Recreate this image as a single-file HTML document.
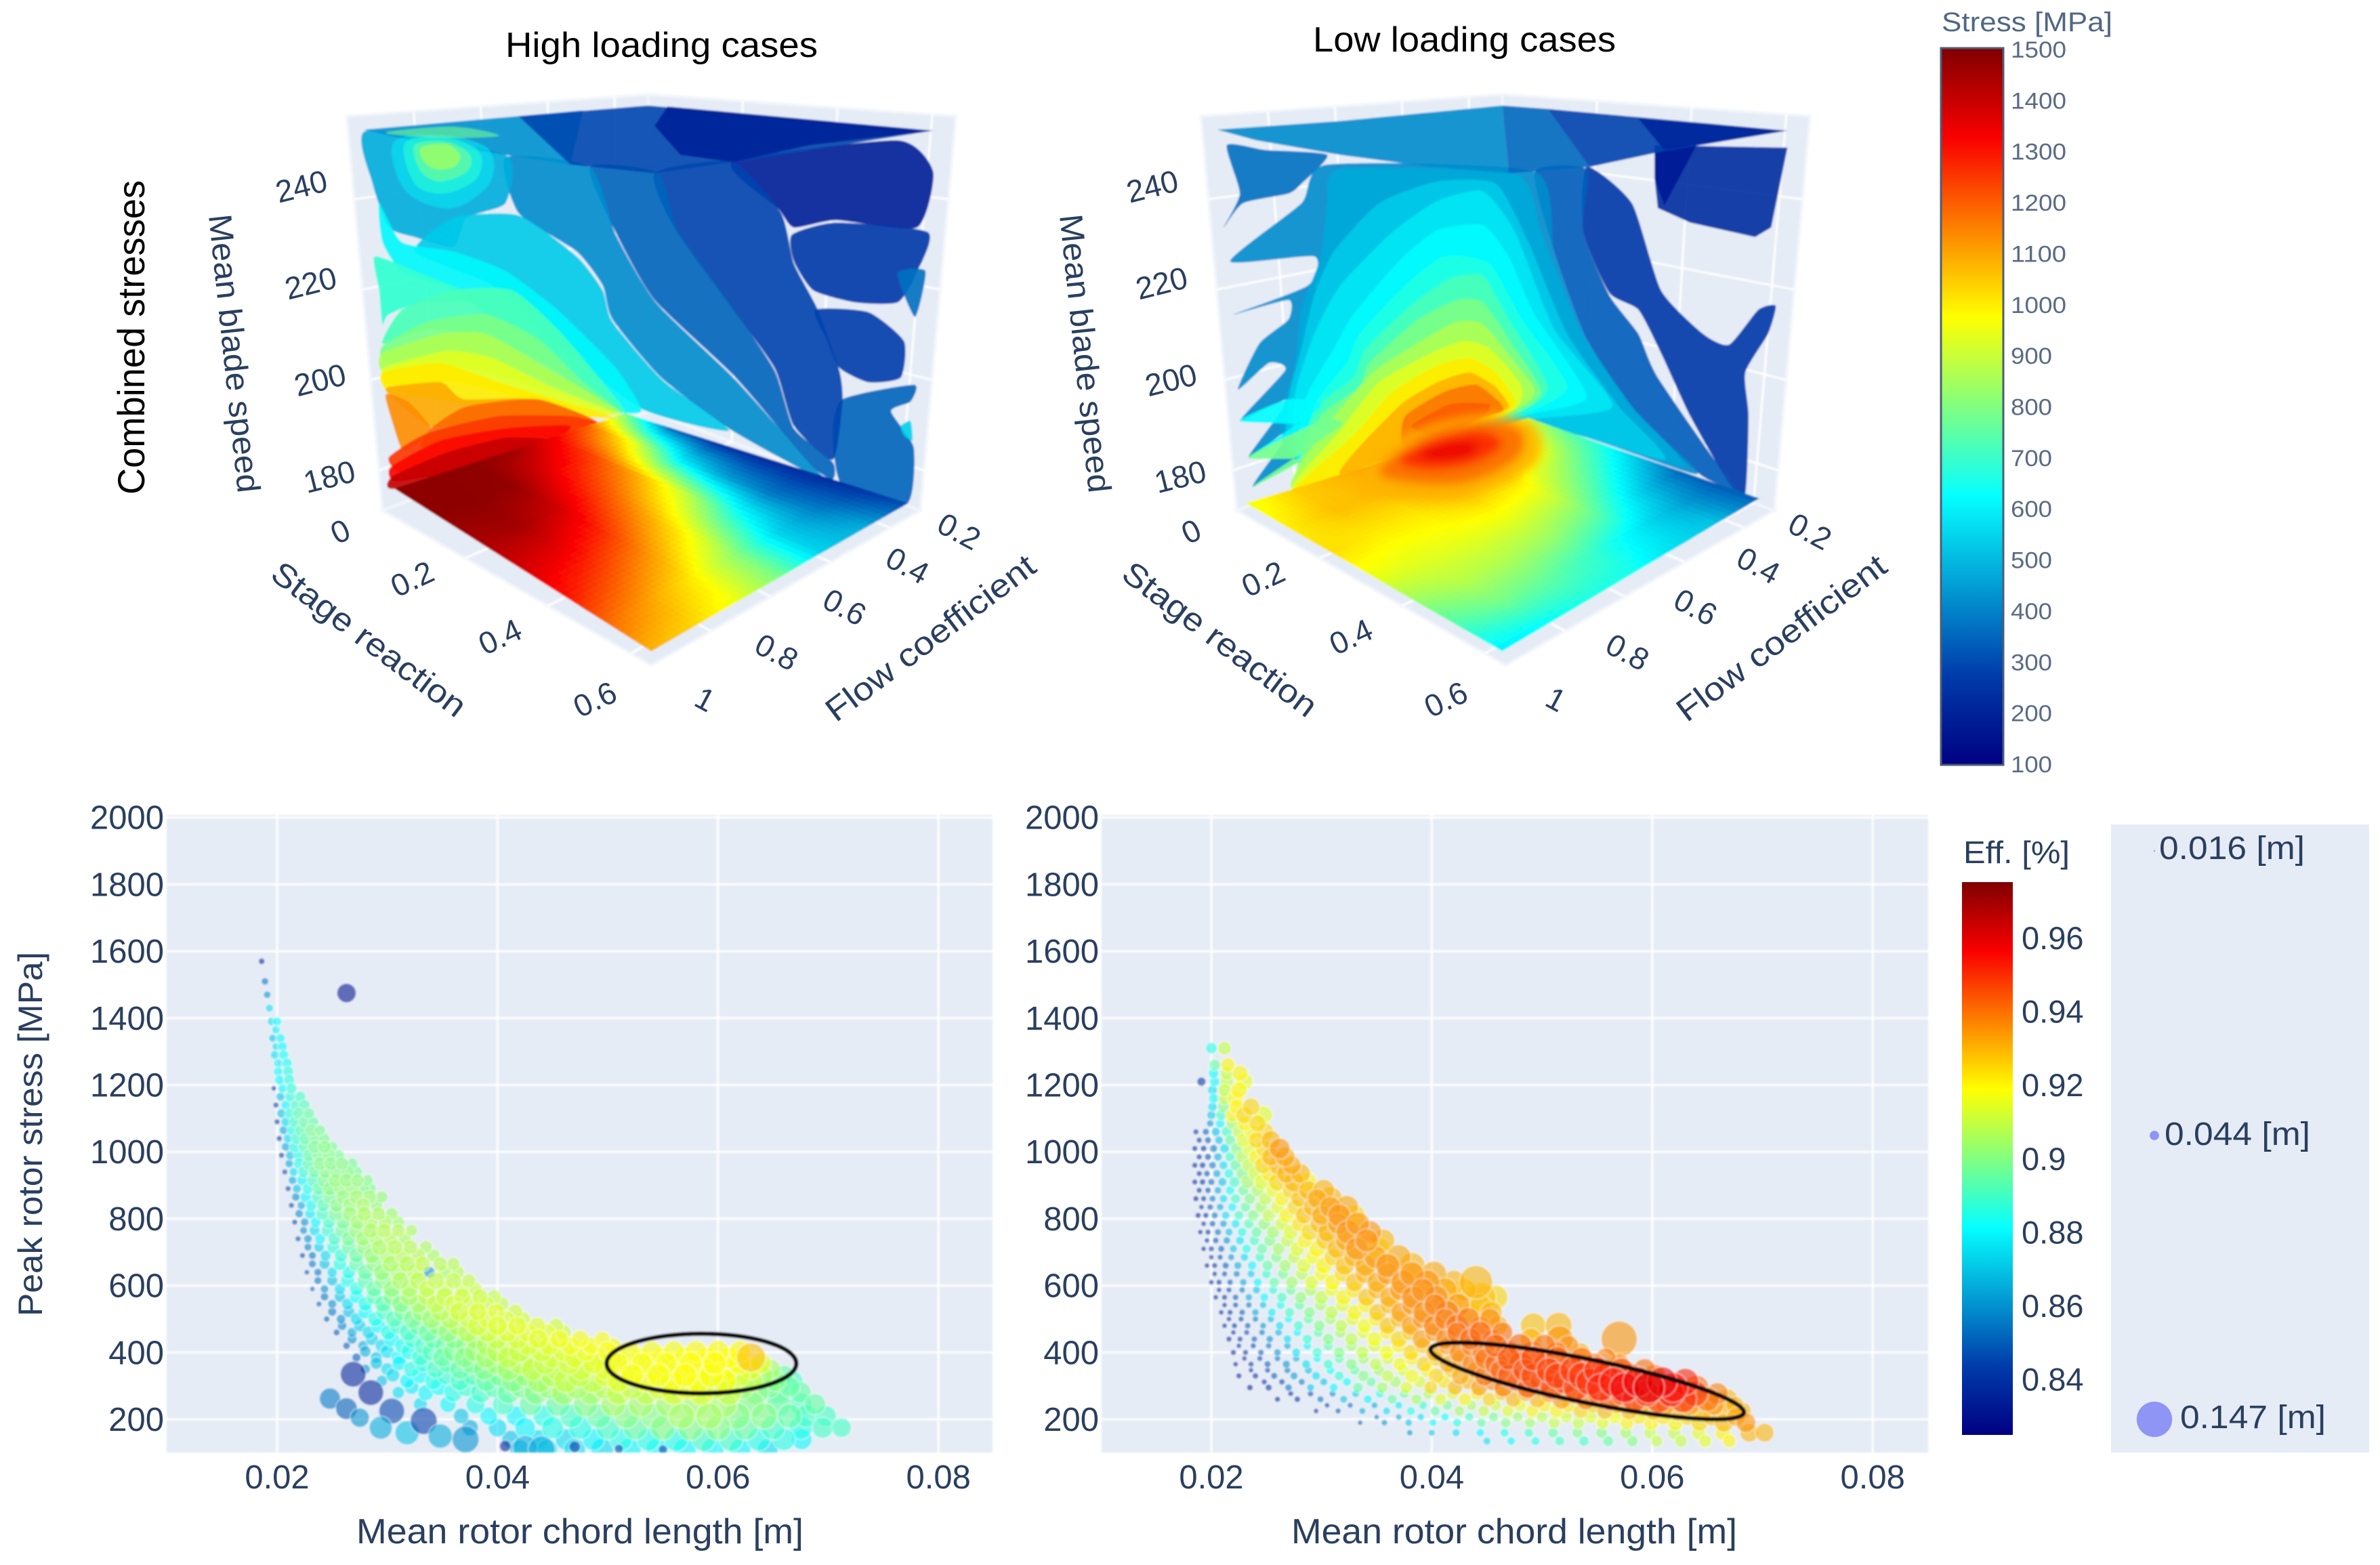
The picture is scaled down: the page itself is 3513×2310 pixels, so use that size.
<!DOCTYPE html>
<html lang="en">
<head>
<meta charset="utf-8">
<title>Combined stresses: high and low loading cases</title>
<style>
html,body{margin:0;padding:0;background:#fff;}
svg{display:block;}
text{font-family:"Liberation Sans",sans-serif;}
</style>
</head>
<body>
<svg id="figure" xmlns="http://www.w3.org/2000/svg" width="3513" height="2310" viewBox="0 0 3513 2310">
  <defs>
    <linearGradient id="jetGrad" x1="0" y1="0" x2="0" y2="1">
      <stop offset="0" stop-color="rgb(128,0,0)"/>
      <stop offset="0.125" stop-color="rgb(250,0,0)"/>
      <stop offset="0.375" stop-color="rgb(255,255,0)"/>
      <stop offset="0.625" stop-color="rgb(5,255,255)"/>
      <stop offset="0.875" stop-color="rgb(0,60,170)"/>
      <stop offset="1" stop-color="rgb(0,0,131)"/>
    </linearGradient>
    <clipPath id="clipHigh"><rect x="246" y="1203" width="1219" height="941"/></clipPath>
    <clipPath id="clipLow"><rect x="1626" y="1203" width="1220" height="941"/></clipPath>
    <filter id="soft" filterUnits="userSpaceOnUse" x="0" y="0" width="3513" height="2310"><feGaussianBlur stdDeviation="1.2"/></filter>
    <filter id="softer" filterUnits="userSpaceOnUse" x="0" y="0" width="3513" height="2310"><feGaussianBlur stdDeviation="7"/></filter>
  </defs>
  <rect x="0" y="0" width="3513" height="2310" fill="#ffffff"/>
  <g id="scene3dHigh" filter="url(#soft)"></g>
  <g id="scene3dLow" filter="url(#soft)"></g>
  <g id="plotHigh" filter="url(#soft)"></g>
  <g id="plotLow" filter="url(#soft)"></g>
  <g id="tickLabels"></g>

  <text x="746" y="84" font-size="52" fill="#000" textLength="461" lengthAdjust="spacingAndGlyphs">High loading cases</text>
  <text x="1938" y="76" font-size="52" fill="#000" textLength="447" lengthAdjust="spacingAndGlyphs">Low loading cases</text>
  <text transform="rotate(-90 213 730)" x="213" y="730" font-size="56" fill="#000" textLength="464" lengthAdjust="spacingAndGlyphs">Combined stresses</text>

  <text transform="rotate(84 308 318)" x="308" y="318" font-size="48" fill="#2a3f5f" textLength="413" lengthAdjust="spacingAndGlyphs">Mean blade speed</text>
  <text transform="rotate(37 545 943)" x="545" y="960" font-size="48" fill="#2a3f5f" text-anchor="middle" textLength="346" lengthAdjust="spacingAndGlyphs">Stage reaction</text>
  <text transform="rotate(-37 1373 941)" x="1373" y="958" font-size="48" fill="#2a3f5f" text-anchor="middle" textLength="374" lengthAdjust="spacingAndGlyphs">Flow coefficient</text>
  <text transform="rotate(84 1564 318)" x="1564" y="318" font-size="48" fill="#2a3f5f" textLength="413" lengthAdjust="spacingAndGlyphs">Mean blade speed</text>
  <text transform="rotate(37 1801 943)" x="1801" y="960" font-size="48" fill="#2a3f5f" text-anchor="middle" textLength="346" lengthAdjust="spacingAndGlyphs">Stage reaction</text>
  <text transform="rotate(-37 2629 941)" x="2629" y="958" font-size="48" fill="#2a3f5f" text-anchor="middle" textLength="374" lengthAdjust="spacingAndGlyphs">Flow coefficient</text>

  <text x="526" y="2278" font-size="52" fill="#2a3f5f" textLength="660" lengthAdjust="spacingAndGlyphs">Mean rotor chord length [m]</text>
  <text x="1906" y="2278" font-size="52" fill="#2a3f5f" textLength="658" lengthAdjust="spacingAndGlyphs">Mean rotor chord length [m]</text>
  <text transform="rotate(-90 62 1943)" x="62" y="1943" font-size="50" fill="#2a3f5f" textLength="538" lengthAdjust="spacingAndGlyphs">Peak rotor stress [MPa]</text>

  <g id="stressBar">
    <rect x="2865" y="71" width="92" height="1058" fill="url(#jetGrad)" stroke="#4d5d75" stroke-width="3"/>
    <text x="2866" y="46" font-size="40" fill="#506784" textLength="252" lengthAdjust="spacingAndGlyphs">Stress [MPa]</text>
  </g>
  <g id="effBar">
    <rect x="2896" y="1302" width="75" height="816" fill="url(#jetGrad)"/>
    <text x="2898" y="1274" font-size="46" fill="#2a3f5f" textLength="157" lengthAdjust="spacingAndGlyphs">Eff. [%]</text>
  </g>
  <g id="sizeLegend">
    <rect x="3116" y="1217" width="381" height="927" fill="#e5ecf6"/>
  </g>
</svg>

<script>
// ---------- colour scale ----------
const jetPositions = [0, 0.125, 0.375, 0.625, 0.875, 1];
const jetReds = [0, 0, 5, 255, 250, 128];
const jetGreens = [0, 60, 255, 255, 0, 0];
const jetBlues = [131, 170, 255, 0, 0, 0];

// ---------- scatter axes ----------
const chordTicks = [0.02, 0.04, 0.06, 0.08];
const stressTicks = [200, 400, 600, 800, 1000, 1200, 1400, 1600, 1800, 2000];

// ---------- colorbars + legend ----------
const stressBarTicks = [1500, 1400, 1300, 1200, 1100, 1000, 900, 800, 700, 600, 500, 400, 300, 200, 100];
const effBarTicks = [0.96, 0.94, 0.92, 0.9, 0.88, 0.86, 0.84];
const legendSizes = [16, 44, 147];
const legendLabels = ['0.016 [m]', '0.044 [m]', '0.147 [m]'];

// ---------- 3D axes ----------
const speedTicks = [240, 220, 200, 180];
const stageTicks = [0, 0.2, 0.4, 0.6];
const flowTicks = [0.2, 0.4, 0.6, 0.8, 1];

// ---------- high loading: peak stress vs chord, one row per stress level ----------
const highRowStress = [1570,1510,1470,1430,1390,1340,1290,1240,1190,1140,1090,1040,990,940,890,840,790,740,690,640,590,545,500,460,420,385,350,315,280,245,210,175,140,110];
const highRowChord = [
[18.6],[18.9],[19.1],[19.3],[19.5,20],[19.6,20.3],[19.8,20.6],[20.1,21],
[19.7,20.5,21.3],[19.9,20.8,21.7,22.5],[20,20.8,21.6,22.5,23.3],[20.2,21,21.8,22.6,23.5,24.3],
[20.4,21.2,22,22.9,23.8,24.7,25.6],[20.7,21.5,22.4,23.4,24.4,25.4,26.4,27.2],
[21,21.8,22.8,23.8,24.8,25.8,26.8,27.8,28.5],[21.3,22.2,23.1,24.2,25.4,26.6,27.8,29],
[21.6,22.5,23.5,24.7,26,27.3,28.5,29.8,31],[21.9,22.8,23.9,25.2,26.5,27.8,29,30.3,31.6],
[22.3,23.2,24.4,25.8,27.2,28.6,30,31.4,32.8,34.2],[22.7,23.7,25,26.5,28,29.5,31,32.5,33.8,35.2,36.4],
[23.2,24.3,25.7,27.2,28.8,30.4,32,33.6,35.2,36.8,38],[23.8,25,26.4,28,29.6,31.2,32.8,34.4,36,37.6,39,40.4],
[24.5,25.8,27.2,28.9,30.6,32.3,34,35.7,37.4,39.1,40.8,42.3],[25.4,26.8,28.3,30.1,31.9,33.7,35.5,37.3,39.1,40.9,42.7,44.5,46],
[26.3,27.8,29.5,31.4,33.3,35.2,37.1,39,40.9,42.8,44.7,46.6,48.5,50.5],
[27.2,29,31,33,35,37,39,41,43,45,47,49,51,53,55,57,59,61,63],
[28,30,32.2,34.4,36.6,38.8,41,43.2,45.4,47.6,49.8,52,54.2,56.4,58.6,60.8,63,64.8],
[29.5,31.8,34.2,36.6,39,41.4,43.8,46.2,48.6,51,53.4,55.8,58.2,60.6,63,65.2,66.8],
[31,33.5,36,38.5,41,43.5,46,48.5,51,53.5,56,58.5,61,63.5,65.5,67.5],
[33,35.5,38,40.5,43,45.5,48,50.5,53,55.5,58,60.5,63,65.5,67.5,68.8],
[36.7,39.2,41.7,44.2,46.7,49.2,51.7,54.2,56.7,59.2,61.7,64.2,66.5,68,69.8],
[37.5,40,42.5,45,47.5,50,52.5,55,57.5,60,62.5,65,67.5,69.5,71.2],
[41.2,43.7,46.2,48.7,51.2,53.7,56.2,58.7,61.2,63.7,66,67.6],
[42,44.5,47,49.5,52,54.5,57,59.5,62,64.5]];
const highRowEff = [
[83.5],[85.5],[86],[87.5],[87.5,88],[87,88],[87.5,88.2],[88,88.6],
[84,88,88.7],[84,88,89,89.2],[84,87.5,89,89.5,89.5],[84,87.5,88.8,89.5,89.8,89.8],
[84,87,88.5,89.5,89.8,90,89.8],[84.5,87.5,88.8,89.6,90,90,90,89.8],
[84.5,87,88.5,89.5,90,90.2,90.2,90,89.8],[84.5,86.5,88.3,89.3,90,90.3,90.5,90.2],
[84.5,86,88,89,89.8,90.4,90.6,90.6,90.4],[84.5,86,88,89,89.8,90.4,90.6,90.8,90.6],
[84.5,85.5,87.5,88.8,89.6,90.3,90.6,90.8,90.8,90.6],[84.5,85.5,87.5,88.5,89.5,90.2,90.6,90.8,86,90.6,90.8],
[85,86,87.5,88.5,89.5,90.2,90.6,91,91,91,91],[85,86,87.5,88.5,89.3,90,90.5,91,91.2,91.2,91.2,91],
[85,86,87.5,88.5,89.2,89.8,90.4,90.8,91.2,91.4,91.4,91.2],[85,86.5,87.5,88.5,89,89.6,90.2,90.8,91.2,91.4,91.5,91.5,91.2],
[85,86.5,87.5,88.3,89,89.5,90,90.6,91,91.3,91.5,91.7,91.8,91.8],
[85,87,88,88.8,89.5,90,90.5,91,91,91.2,91.5,91.5,91.5,91.8,91.8,91.8,91.8,91.9,92.8],
[86,87.5,88.5,89,89.5,90,90.5,91,91,91.2,91.5,91.8,91.8,91.8,91.8,91.8,91.5,90.5],
[87,88,88.5,89,89.5,90,90.5,91,91,91.5,91.8,91.8,91.8,91.8,91,90,89],
[87.5,88,88.5,89,89.5,90,90.5,90.5,91,91,91.5,91.5,91,90,89.5,89.5],
[87.5,88,88.5,89,89.5,89.5,90,90.5,90.5,90.5,90.5,90.5,90,89.5,89,89.5],
[87,88,88,88.5,89,89.5,90,90,90.5,90.5,90,90,89.5,89,89],
[86.5,87.5,88,88.5,88.5,89,89.5,90,90,90,89.5,89,88.5,89,89],
[87,87.5,87.5,88,88.5,88.5,88.5,89,89,88.5,88.5,88],
[87,87.5,87.5,87.5,88,88,88,88,88,87.5]];
const highRowSize = [
[20],[24],[24],[26],[28,30],[26,32],[30,34],[32,38],
[16,32,38],[18,34,38,38],[18,34,40,42,36],[18,32,40,44,44,38],
[18,32,40,44,46,46,40],[18,30,40,44,48,48,46,42],
[18,30,40,46,50,50,50,46,38],[18,28,40,46,50,52,52,44],
[18,28,38,46,52,54,52,50,44],[18,28,38,46,52,54,54,50,46],
[18,26,38,48,54,58,58,56,52,46],[16,26,36,48,56,60,62,60,40,50,46],
[16,28,40,50,58,62,64,62,60,56,48],[18,30,42,52,60,64,66,66,64,60,56,50],
[20,32,44,54,62,66,70,70,68,66,60,54],[22,34,46,56,64,70,72,72,72,70,68,62,56],
[24,36,48,58,66,72,76,76,74,72,70,68,64,58],
[30,42,52,62,70,76,80,80,80,78,76,74,74,74,76,78,78,78,108],
[34,46,58,66,74,80,84,84,84,82,80,78,80,80,84,84,78,72],
[40,54,64,72,78,84,88,88,88,84,82,84,88,88,84,78,72],
[44,58,68,76,82,88,90,90,90,88,90,94,94,90,84,78],
[50,60,70,78,84,90,92,92,94,94,98,100,98,92,84,78],
[56,66,74,80,86,90,92,94,96,98,100,96,90,84,76],
[60,68,76,82,86,88,90,92,94,94,92,90,86,78,72],
[66,72,78,82,84,86,88,88,88,86,82,76],
[72,76,80,84,84,84,84,84,80,76]];
// staggered in-between rows of the high loading cloud
const highInterStress = [1365,1315,1265,1215,1165,1115,1065,1015,965,915,865,815,765,715,665,615,567,522,480,440,403,368,332,297];
const highInterChord = [
[19.9],[19.9,20.5],[20.1,20.9],[20.2,21.1],[20.3,21.2,22.1],[20.4,21.2,22,22.9],[20.6,21.4,22.2,23.1,23.9],[20.8,21.6,22.5,23.4,24.3,25],
[21.1,22,22.9,23.9,24.9,25.9,26.8],[21.4,22.3,23.3,24.3,25.3,26.3,27.3,28.2],[21.7,22.6,23.7,24.8,26,27.2,28.4,29.5],[22,23,24.1,25.3,26.6,27.9,29.2,30.4],
[22.4,23.4,24.6,25.9,27.2,28.5,29.7,31,32.2],[22.8,23.8,25.1,26.5,27.9,29.3,30.7,32.1,33.5],[23.2,24.3,25.7,27.2,28.8,30.3,31.8,33.2,34.8,36],[23.7,25,26.4,28,29.6,31.2,32.8,34.4,36,37.4],
[24.3,25.7,27.2,28.8,30.4,32,33.6,35.2,36.8,38.4,39.7],[25,26.5,28,29.7,31.4,33.1,34.8,36.5,38.2,39.9,41.6],[25.9,27.5,29.2,31,32.8,34.6,36.4,38.2,40,41.8,43.6,45.3],[26.8,28.6,30.4,32.3,34.2,36.1,38,39.9,41.8,43.7,45.6,47.5,49.5],
[28,30,32,34,36,38,40,42,44,46,48,50,52,54,56,58,60,62],[29,31.1,33.3,35.5,37.7,39.9,42.1,44.3,46.5,48.7,50.9,53.1,55.3,57.5,59.7,61.9,63.9],[30.5,33,35.4,37.8,40.2,42.6,45,47.4,49.8,52.2,54.6,57,59.4,61.8,64,66],[32.2,34.7,37.2,39.7,42.2,44.7,47.2,49.7,52.2,54.7,57.2,59.7,62.2,64.6,66.5]];
const highInterEff = [
[87.8],[87.5,88],[87.8,88.3],[88,88.6],[87,88.6,89],[87,88.7,89.3,89.5],[86.5,88.5,89.3,89.8,89.8],[86.5,88.5,89.3,89.8,90,89.8],
[86.5,88.5,89.3,90,90,90,89.8],[86.5,88,89,89.8,90.2,90.2,90.2,90],[86,88,89,89.8,90.2,90.4,90.4,90.2],[86,87.8,89,89.8,90.3,90.6,90.6,90.4],
[86,87.5,88.8,89.6,90.2,90.6,90.8,90.8,90.6],[85.8,87.3,88.7,89.5,90.2,90.6,90.8,90.8,90.6],[85.6,87,88.5,89.4,90.1,90.6,90.8,91,90.8,90.8],[85.6,87,88.4,89.3,90,90.6,90.9,91,91,91],
[85.5,87,88.2,89.2,89.9,90.5,90.9,91.1,91.2,91.2,91],[85.5,87,88.1,89,89.7,90.3,90.8,91.2,91.4,91.4,91.2],[85.8,87.2,88.1,88.9,89.5,90.1,90.7,91.2,91.4,91.5,91.5,91.2],[86,87.3,88,88.8,89.4,89.9,90.5,91,91.3,91.5,91.7,91.8,91.8],
[86.5,87.6,88.4,89.2,89.8,90.3,90.8,91,91.2,91.4,91.6,91.8,91.8,91.8,91.8,91.9,91.9,91.9],[87,88,88.7,89.3,89.8,90.3,90.8,91,91.2,91.5,91.8,91.8,91.8,91.9,91.9,91.8,91.6],[87.5,88.2,88.8,89.3,89.8,90.3,90.8,91,91.4,91.8,91.8,91.9,91.8,91.5,90.5,89.5],[87.8,88.2,88.8,89.3,89.8,90.3,90.5,90.8,91,91.4,91.6,91.2,90.4,89.8,89.5]];
const highInterSize = [
[28],[26,32],[30,36],[34,38],[30,38,38],[32,40,42,38],[30,40,44,44,38],[30,40,44,46,46,38],
[28,40,46,48,48,46,40],[28,40,46,50,50,50,46,40],[28,40,46,50,52,52,50,42],[28,38,46,52,54,54,50,44],
[26,38,46,52,56,56,52,48,42],[26,36,46,52,56,58,56,52,46],[26,38,48,54,60,62,60,56,52,46],[26,38,50,58,62,64,64,62,58,50],
[28,40,50,58,64,66,66,66,62,58,50],[30,42,52,60,66,70,70,70,66,62,54],[32,44,54,62,68,72,74,74,72,68,62,54],[34,46,56,64,70,74,76,76,74,72,68,64,56],
[40,50,60,68,74,78,80,80,78,76,74,74,74,76,78,80,82,80],[44,54,64,72,78,82,84,84,82,80,78,78,80,84,86,82,76],[50,62,70,76,82,86,88,88,86,84,86,88,90,88,80,72],[54,64,72,80,84,88,90,90,90,92,94,94,90,84,76]];
const highOutlierChord = [26.3,26.9,24.8,28.5,26.3,27.5,30.4,29.4,31.8,33.3,34.8,37.1,40.7,42.5,44,47,51,55];
const highOutlierStress = [1475,335,262,280,232,205,225,175,160,195,150,140,120,115,110,118,112,110];
const highOutlierEff = [83,83.5,85.5,83.5,85,86,84.5,86.5,87,84.3,86.5,86,83.5,86.5,86.5,84,84.5,84.5];
const highOutlierSize = [70,95,78,95,80,70,95,85,90,100,90,100,40,90,100,40,30,30];

// ---------- low loading: peak stress vs chord, one row per stress level ----------
const lowRowStress = [1310,1260,1210,1160,1110,1060,1010,960,910,860,810,760,710,660,610,565,520,480,440,400,365,330,295,260,225,190,160,135];
const lowRowChord = [
[20,21.2],[20.3,21.5],[19.1,20.3,21.4,23],[20.2,21.2,22.2],[20,20.9,21.9,23,24.7],
[18.6,19.5,20.4,21.4,22.5,23.7,24.9],[18.5,19.3,20.2,21.2,22.3,23.5,24.8,26.2],
[18.5,19.2,20.1,21.1,22.2,23.4,24.7,26.1,27.3],[18.5,19.2,20,21,22.1,23.3,24.6,26,27.5,28.7],
[18.6,19.3,20.1,21.1,22.2,23.5,24.9,26.4,28,29.6,30.8],[18.8,19.5,20.3,21.3,22.5,23.8,25.2,26.8,28.4,30,31.6,33],
[19,19.7,20.6,21.6,22.8,24.1,25.6,27.2,28.9,30.6,32.4,34.4],[19.3,20,20.9,22,23.2,24.6,26.1,27.8,29.6,31.4,33.2,35.2],
[19.6,20.3,21.3,22.4,23.7,25.1,26.7,28.4,30.2,32.1,34,36,38.2],
[20,20.7,21.7,22.9,24.2,25.7,27.3,29.1,31,33,35.1,37.4,39.6,42,44],
[20.4,21.2,22.2,23.4,24.8,26.4,28.1,30,32,34.1,36.2,38.3,40.4,42.4,44.5,45.8],
[20.9,21.7,22.8,24,25.5,27.1,28.9,30.9,33,35.1,37.2,39.3,41.4,43.5,45.4],
[21.2,22.1,23.3,24.7,26.2,27.9,29.8,31.8,33.9,36,38.1,40.2,42.3,44.4,46,49.2,51.5],
[21.6,22.6,23.9,25.3,26.9,28.7,30.6,32.7,34.8,37,39.1,41.3,43.5,45.5,49,51.6,57],
[22,23.1,24.5,26,27.7,29.6,31.6,33.7,35.9,38.1,40.3,42.5,44.7,46.9,49.1,51.3,53.5],
[22.2,23.6,25.1,26.8,28.6,30.6,32.7,34.9,37.1,39.3,41.5,43.7,45.9,48.1,50.3,52.5,54.7,57],
[22.5,24,25.7,27.5,29.5,31.6,33.8,36,38.2,40.4,42.6,44.8,47,49.2,51.4,53.6,55.8,58,60.2],
[23.5,25.2,27,29,31.1,33.3,35.5,37.7,39.9,42.1,44.3,46.5,48.7,50.9,53.1,55.3,57.5,59.7,61.9,64],
[26,27.8,29.9,32,34.2,36.4,38.6,40.8,43,45.2,47.4,49.6,51.8,54,56.2,58.4,60.6,62.8,65,66.8],
[29.5,31.5,33.7,35.9,38.1,40.3,42.5,44.7,46.9,49.1,51.3,53.5,55.7,57.9,60.1,62.3,64.5,66.7,68.2],
[33.5,35.7,37.9,40.1,42.3,44.5,46.7,48.9,51.1,53.3,55.5,57.7,59.9,62.1,64.3,66.5,68.5],
[38,40,42.2,44.4,46.6,48.8,51,53.2,55.4,57.6,59.8,62,64.2,66.4,68.8,70.2],
[45,47.2,49.4,51.6,53.8,56,58.2,60.4,62.6,64.8,67]];
const lowRowEff = [
[88.5,91],[89.5,92],[84,88,91,91.5],[88,91,92],[87,89,92,92.5,91.5],
[84,85,87,89,91,92,92.5],[83.5,84,85.5,87.5,90,91.5,92.5,93.5],
[83.5,84,85.5,87.5,89.5,91,92.5,93,93.2],[83.5,84,85,87,89,90.5,91.5,92.5,93,92],
[83.5,84,85.5,87.5,89,90,91,92,92.8,93.2,93],[83.5,84,85.5,87.5,89,90,91,92,92.8,93.2,93.5,92.5],
[83.5,84,85.5,87,88.5,89.5,90.5,91.5,92.5,93,93.5,93.5],[83.5,84,85,87,88.5,89.5,90.5,91.5,92,93,93.5,92.5],
[83.5,84,85,86.5,88,89.5,90.5,91.5,92,92.8,93.2,93.5,93],
[83.5,84,85,86.5,88,89.5,90.5,91.5,92,92.8,93.2,93.5,93.5,93,93],
[83.5,84,85,86.5,88,89,90.2,91,92,92.8,93.2,93.6,93.6,92.2,92.8,92.5],
[83.5,84,85,86.5,87.8,89,90,91,92,92.8,93.4,93.6,93.8,92.5,93],
[83.5,84,85,86.2,87.5,88.8,90,91,91.8,92.8,93.4,93.8,94,93.6,93,92.8,93],
[83.5,84,85,86,87.5,88.8,90,91,91.8,92.5,93.4,93.8,94.2,94,93,93.5,93.5],
[83.5,84,85,86,87.5,88.8,90,91,91.8,92.5,93.2,93.8,94,94.2,94,93.8,93],
[83.5,84,85,86,87.5,88.8,90,91,91.8,92.5,93.2,93.8,94.2,94.4,94.4,94,94,93.5],
[83.5,84,85,86.2,87.5,88.8,90,91,91.8,92.5,93.2,94,94.4,94.6,94.8,94.9,95,94.6,94],
[83.5,84,85.5,87,88,89.5,90.5,91.5,92.5,93,93.5,94,94.5,94.6,94.8,95.2,95.8,96,95.5,94],
[83.5,84,85.5,87,88,89.5,90.5,91.5,92,92.5,93,93,93.5,94,94.5,95,95,95,94,93],
[84,85,86.5,87.5,88.5,89.5,90.5,91,91.5,92,92,92.5,93,93,93,93,93,93,93],
[85,86,87,88,88.5,89.5,90,90.5,91,91,91.5,92,92,92,92.5,93,93.5],
[86,87,87.5,88,88.5,89,89.5,90,90,90.5,91,91,91.5,92,93,93],
[87.5,88,88.5,89,89,89.5,90,91,91,91.5,92]];
const lowRowSize = [
[40,48],[40,52],[30,36,50,62],[34,46,58],[30,38,50,62,68],
[18,22,30,38,46,56,62],[18,20,26,34,44,54,62,76],
[18,20,24,30,40,50,62,72,68],[18,20,22,30,38,48,56,66,74,70],
[18,18,22,28,34,40,46,52,62,72,88],[18,18,22,28,34,40,46,54,62,72,84,78],
[16,18,22,26,32,38,46,54,62,76,88,84],[16,18,22,26,32,38,44,52,62,72,84,84],
[16,18,22,26,32,38,44,52,60,70,80,90,96],
[16,18,20,24,30,36,44,50,58,68,78,90,92,88,125],
[16,18,20,24,30,36,42,50,58,66,76,84,88,80,110,90],
[16,18,20,24,28,34,40,48,56,64,74,82,88,70,80],
[16,18,20,22,28,34,40,46,54,62,70,78,84,70,74,95,100],
[18,18,20,24,28,34,40,46,54,62,70,76,80,72,80,100,135],
[18,18,20,24,30,34,40,46,52,58,66,74,84,90,84,80,70],
[16,18,22,26,30,34,40,44,50,56,64,76,88,92,88,84,80,76],
[18,20,22,26,30,34,40,44,50,56,64,74,84,92,96,100,96,92,84],
[20,22,24,26,30,36,40,44,48,54,60,68,78,88,96,104,112,116,110,92],
[18,20,22,26,30,34,38,42,46,50,56,62,70,76,84,92,100,100,90,76],
[16,18,22,26,30,34,36,40,42,46,50,54,58,62,66,72,74,70,62],
[16,20,24,26,30,32,36,38,42,44,46,50,54,58,62,68,72],
[20,22,26,28,30,32,36,38,40,42,44,48,50,56,68,68],
[26,28,30,34,36,38,40,42,44,46,48]];
// staggered in-between rows of the low loading cloud
const lowInterStress = [1235,1185,1135,1085,1035,985,935,885,835,785,735,685,635,587,542,500,460,420,382,347,312,277,242,207];
const lowInterChord = [
[20.2,21.4,22.6],[20.1,21.2,22.5],[20.1,21.1,22.3,23.6],[19.9,20.8,21.9,23,24.2],[18.9,19.7,20.7,21.7,22.9,24.1,25.4],[18.9,19.7,20.6,21.7,22.8,24.1,25.4,26.7],
[18.9,19.6,20.5,21.6,22.8,24,25.3,26.8,28.1],[18.9,19.7,20.6,21.7,22.9,24.2,25.6,27.2,28.8,30.2],[19.1,19.9,20.8,21.9,23.1,24.5,26,27.6,29.2,30.8,32.3],[19.3,20.1,21.1,22.2,23.4,24.8,26.4,28,29.8,31.5,33.3],
[19.6,20.4,21.4,22.6,23.9,25.3,26.9,28.5,30.3,32.2,34.1,35.6],[20,20.8,21.8,23,24.4,25.9,27.5,29.2,31,32.9,34.9,37],[20.3,21.2,22.3,23.6,25,26.5,28.2,30,31.9,33.9,36,38.2,40.2],[20.7,21.6,22.8,24.1,25.6,27.2,29,30.9,32.9,35,37.1,39.2,41.2,43],
[21.2,22.2,23.4,24.7,26.3,28,29.9,31.9,34,36.1,38.2,40.3,42.4,44.4],[21.6,22.7,24,25.4,27,28.8,30.8,32.8,34.9,37,39.1,41.2,43.3,45.3],[22,23.2,24.6,26.1,27.8,29.7,31.7,33.8,35.9,38,40.2,42.3,44.4,46.4],[22.5,23.8,25.2,26.9,28.7,30.6,32.7,34.8,37,39.2,41.4,43.6,45.8,48,50.2,52.4],
[23,24.4,26,27.7,29.6,31.6,33.8,36,38.2,40.4,42.6,44.8,47,49.2,51.4,53.6,55.8],[23.6,25.1,26.9,28.8,30.8,33,35.2,37.4,39.6,41.8,44,46.2,48.4,50.6,52.8,55,57.2,59.3],[24.8,26.4,28.2,30.2,32.3,34.5,36.7,38.9,41.1,43.3,45.5,47.7,49.9,52.1,54.3,56.5,58.7,60.9,63],[27.2,29,31,33.1,35.3,37.5,39.7,41.9,44.1,46.3,48.5,50.7,52.9,55.1,57.3,59.5,61.7,63.9,65.9],
[30.5,32.6,34.8,37,39.2,41.4,43.6,45.8,48,50.2,52.4,54.6,56.8,59,61.2,63.4,65.6,67.5],[35,37,39,41.2,43.4,45.6,47.8,50,52.2,54.4,56.6,58.8,61,63.2,65.4,67.6]];
const lowInterEff = [
[88,91,92],[87.5,91,92],[87.5,90,92,92.5],[86,88,90.5,92,92.5],[83.8,85,87,89.5,91.5,92.5,93],[83.8,84.8,86.8,89,90.8,92,93,93.2],
[83.8,84.8,86.5,88.5,90,91.2,92.2,93,93],[83.8,84.8,86.5,88.3,89.6,90.6,91.6,92.5,93,93],[83.8,84.8,86.5,88,89.5,90.5,91.5,92.4,93,93.4,93.2],[83.8,84.8,86.3,87.8,89.2,90.2,91.2,92.2,92.9,93.4,93.5],
[83.8,84.8,86,87.6,89,90,91,92,92.7,93.2,93.5,93],[83.8,84.6,86,87.5,89,90,91,91.8,92.5,93,93.4,93.2],[83.8,84.6,85.8,87.2,88.8,89.8,90.8,91.8,92.4,93,93.4,93.5,93.2],[83.8,84.5,85.6,87,88.6,89.6,90.6,91.6,92.2,92.9,93.4,93.6,93.2,92.8],
[83.8,84.5,85.6,87,88.4,89.5,90.5,91.4,92,92.8,93.4,93.8,93.6,92.8],[83.8,84.5,85.5,86.8,88.2,89.4,90.5,91.4,92,92.8,93.5,93.8,94,93.6],[83.8,84.5,85.5,86.6,88,89.4,90.5,91.4,92,92.6,93.4,94,94.2,94],[83.8,84.5,85.5,86.5,88,89.3,90.4,91.3,92,92.6,93.4,93.8,94.2,94.2,94,93.6],
[83.8,84.5,85.5,86.6,88,89.3,90.4,91.3,92,92.6,93.2,94,94.4,94.6,94.4,94.2,93.8],[83.8,84.5,85.6,86.8,88.2,89.4,90.4,91.3,92,92.6,93.4,94.2,94.5,94.7,94.8,95,94.6,94],[83.8,84.5,85.6,87,88.2,89.5,90.5,91.4,92.2,92.9,93.6,94.2,94.5,94.7,94.9,95.3,95.8,95.9,95.2],[83.8,84.6,85.8,87.2,88.4,89.6,90.6,91.4,92,92.6,93,93.4,93.8,94.4,94.8,95,95.2,94.8,93.8],
[84.2,85.2,86.5,87.8,88.8,89.8,90.6,91.2,91.6,92,92.2,92.6,93,93.2,93.5,93.5,93.5,93],[85.5,86.5,87.5,88.2,89,89.8,90.4,90.8,91.2,91.4,91.8,92.2,92.2,92.4,92.8,93.2]];
const lowInterSize = [
[36,48,58],[34,46,60],[32,42,54,64],[24,32,44,54,62],[18,22,28,38,50,60,70],[18,22,28,36,46,56,66,72],
[18,20,26,34,44,52,60,70,72],[18,20,24,32,38,46,52,60,70,80],[16,20,24,30,36,44,50,58,68,78,86],[16,20,24,30,36,44,50,58,68,78,86],
[16,20,24,30,36,42,48,56,66,76,86,84],[16,18,22,28,34,40,46,54,62,72,84,92],[16,18,22,26,32,38,44,52,60,70,80,90,94],[16,18,20,26,30,36,44,50,58,66,76,86,90,84],
[16,18,20,24,30,36,42,50,56,64,74,82,86,80],[16,18,20,24,28,34,40,48,54,62,70,78,84,78],[16,18,20,24,28,34,40,46,52,60,68,76,82,76],[16,18,20,24,28,34,40,46,52,58,66,76,86,90,84,76],
[16,18,20,24,28,34,40,44,50,56,64,74,86,92,88,82,76],[16,18,22,26,30,34,40,44,50,56,64,74,84,92,98,98,90,84],[18,20,22,26,30,34,40,44,48,54,62,70,80,90,100,108,112,112,100],[18,20,22,26,30,34,38,42,46,50,56,64,72,80,88,96,100,96,80],
[16,18,22,26,30,34,36,40,44,48,52,56,60,66,70,74,72,64],[16,20,24,28,30,34,36,40,42,46,48,52,56,60,64,68]];

// ---------- highlighted design regions ----------
const highEllipseChord = 58.5;
const highEllipseStress = 367;
const lowEllipseChord = 54.1;
const lowEllipseStress = 315;

// ---------- floor stress surfaces (rows: flow coefficient, columns: stage reaction) ----------
const stageGrid = [0, 0.1, 0.2, 0.3, 0.4, 0.5, 0.6];
const flowGrid = [0.1, 0.25, 0.4, 0.55, 0.7, 0.85, 1];
const highFloorStress = [
[800,350,250,230,230,250,300],
[1200,950,600,450,380,400,480],
[1350,1230,1080,900,680,550,540],
[1460,1340,1230,1100,970,820,790],
[1480,1470,1380,1260,1120,1000,950],
[1480,1480,1450,1340,1220,1100,1030],
[1480,1480,1440,1380,1300,1180,1080]];
const lowFloorStress = [
[900,750,650,500,350,330,340],
[1150,1050,850,700,550,480,520],
[1200,1180,1020,900,760,600,570],
[1120,1130,1050,950,840,700,650],
[1080,1060,1000,950,870,760,660],
[1040,1060,1000,940,880,780,620],
[950,1000,1020,950,830,720,600]];
// floor sheet corners [section position, speed]: low stage/high flow, low stage/low flow, high stage/low flow, high stage/high flow
const highFloorCorners = [[61,177],[96.5,192.5],[140,174],[100.5,143.5]];
const lowFloorCorners = [[35.5,174],[79,191.5],[114.5,175],[75,143.5]];

// ---------- iso-stress sheets: level + outline as [section position %, blade speed] ----------
const highBackStress = [200,270,370,280,350,540,290,350,420,480,530,610,690,720,790,860,930,1000,1090,1130,1180,1250,1320,1400];
const highBackOutlines = [
[[113,244.5],[138.5,249],[144,242.5],[141.5,231],[129,232.5],[122.5,231],[120,235]],
[[122.2,229.5],[129,232],[143.2,230],[141.2,221],[138.5,215.5],[132,215.5],[125.5,218],[122.5,224]],
[[138.5,221.5],[142.8,222],[141.2,212.5]],
[[125.8,214],[134,213.5],[139.5,207.5],[139,200],[134,199],[129.5,202],[127.5,208]],
[[130,195.5],[141,198.5],[140.5,195],[137.5,193],[141,185.5],[140,174],[130,177.5],[128.5,188]],
[[139,190],[140.5,191],[140.8,187],[139.5,188]],
[[101,242.2],[113,244.5],[120.5,234],[122.5,223.5],[126.2,214],[129.5,201.5],[130,195],[128.5,183],[122.5,190],[119.5,202],[112,216],[104,231]],
[[91,243.5],[101.5,242.2],[104.5,230.5],[112.5,215.5],[119.5,201.5],[122.5,189.5],[128.5,182.5],[128.5,179],[125,182],[113.5,200],[101,216],[95,230]],
[[78,245.5],[91,243.5],[95,229.5],[101.2,215.5],[113.5,199.5],[125.5,181.5],[128,178],[113,189],[102,200],[94.5,212],[93,219],[89,226],[80,234]],
[[56.5,251],[78,246],[78,236],[72,233],[70,227],[64,229],[60,231],[57.5,240]],
[[70,233],[80,233.5],[89,225],[93,218],[94.5,211.5],[102.2,199.5],[112.5,189],[99,193.5],[85,208],[76,219],[64,226]],
[[58.5,236],[62,228],[70,226],[78,222],[86,214],[95,202],[99,193],[93,194],[80,208],[70,218],[62,222],[59,228]],
[[57.8,225],[64,222],[74.5,216],[65,215.5],[60,213],[59,211],[58.5,218]],
[[62,214],[70,218],[79,218],[86,210],[93,199],[96.5,192.5],[85,202],[76,208],[66,210],[59,207]],
[[59,206.5],[66,211.5],[75,213],[83,208],[90,199],[96,192.5],[86,198],[75,204],[60,203]],
[[59,205],[68,209],[75,209],[83,203],[96,192.5],[83,198],[72,202],[59.5,201]],
[[59.2,202],[69,205.5],[76,204],[85,198],[96,192],[83,195],[70,199],[60,198.5]],
[[59,201],[68,203],[77,199],[87,195],[95,191.5],[80,193],[70,195],[60,197]],
[[60,198],[68,199],[71.5,195.5],[82,195.5],[92.5,190.5],[80,190],[69,190],[66,190],[60,196.5]],
[[59.5,196.5],[63,195],[66.5,189.5],[64,186],[62,185.2],[60.5,191]],
[[66.5,189.5],[72,194],[83,195.5],[92.5,190.5],[85,187.5],[70,187],[65,185.5]],
[[60,183.5],[66,188.5],[77,192],[88,192],[92.5,190.2],[84,186],[72,183],[62,180.5]],
[[60.3,181.5],[68,187],[78,189.5],[88,190],[84,185.5],[70,180.5],[61,178.5]],
[[60.5,179.5],[69,184.5],[78,187.5],[85,187],[80,183.5],[61,177]]];
const highTopStress = [430,300,200];
const highTopOutlines = [
[[56.2,251.2],[80,254],[90,255.2],[88,244],[78,246],[64,248.8]],
[[80,254],[100,256.2],[144,251],[113,244.5],[101,242.2],[88,244]],
[[103,256],[144,251],[125,248],[113,244.5],[105,246],[101,252]]];
const highBlobStress = [580,680,780,880,780];
const highBlobOutlines = [
[[61,249],[69,250],[75.5,247],[75.5,240],[70,235],[64,237],[61.2,242]],
[[62.5,248.5],[69,249.5],[74,246.5],[73.5,241],[68.5,238],[64,240]],
[[64,248],[69,248.7],[72.5,246],[72,242.5],[68,240.5],[65,242.5]],
[[65,247.5],[69,248.2],[71,245.8],[70,243.5],[67.5,243],[65.5,244.5]],
[[60,250.8],[70,251.8],[77,250],[70,249.5],[62,250]]];

const lowPatchStress = [230,170];
const lowPatchOutlines = [
[[98.5,248],[119,247.5],[116.5,231],[114,229],[104,232],[99,235],[98.5,241]],
[[98.5,248],[105,248],[100,235.5],[98.5,241]]];
const lowBackStress = [370,270,340,420,470,530,580,620,660,720,790,860,930,1000,1080,1160,1200,620,780];
const lowBackOutlines = [
[[32.5,248],[38.5,247],[48,246],[44,240],[42,238],[35,236],[32,231],[34.5,238]],
[[88,243.5],[95,236],[99.5,218],[106,209],[110,206.8],[114.5,214],[117.2,214.8],[116,209],[112.5,201],[113,192],[112.5,176],[110,178],[104,192],[99.5,205],[96,214],[91.5,217.5],[87.5,230]],
[[80,242.5],[88,243],[87.5,230],[91.5,217],[96,209],[99,200],[111,177],[114.5,175],[106,179.5],[96,192],[88,208],[83,226]],
[[44,236],[33,224],[46,225],[45,219],[33.5,213],[42,216],[42,212],[37.5,207],[34.2,197.5],[39,203],[41.5,201.5],[34.5,191],[42,195.5],[35.8,183.5],[43,190],[36.5,177.5],[45,183],[80,190],[105,180],[96,192],[88,208],[83,226],[80,242.5],[48,244]],
[[48,236],[50,243],[77,242],[81,230],[87,210],[95,194],[103,181.5],[80,190],[44,183],[41,192],[43,202],[44,214],[47,225]],
[[49,226],[56,236],[65,240.5],[74,240],[79,228],[85,209],[93,194],[100,183],[79,190],[44,183],[42,195],[44,206],[46,217]],
[[50,219],[58,230],[65,236.5],[72,238.5],[77,230],[83,210],[92,194],[78,191],[45,182],[43,196],[46,209]],
[[52,213],[59,224],[65,230.5],[72,231.5],[76,225],[80,213],[88,196],[78,192],[45,181],[44.5,195],[49,206]],
[[53,209],[60,219],[66,225],[73,223.5],[78,212],[85,198],[77,192],[45.5,180],[46,194],[51,203]],
[[54,206],[61,215],[67,220.5],[72,221],[76,212],[82,198],[76,192],[45,179],[46,193],[52,200]],
[[54.5,203],[62,212],[68,216],[72,215.5],[77,206],[81,197],[76,192],[44,178],[47,192],[53,198]],
[[55,201],[63,208],[68,211.5],[72,211],[77,203],[80,197],[75,192],[43,177],[48,190]],
[[56,199],[64,205],[69,207.5],[73,206],[78,198],[75,192],[43,176.5],[50,189]],
[[58,197],[65,202.5],[70,204],[74,201],[77,195],[74,192],[42,175],[52,188]],
[[59,194],[65,199],[70,201],[74,198],[76,194],[73,192],[50,180]],
[[60,192],[66,197],[71,198.5],[74.5,195],[75,193],[70,191],[60,186]],
[[61,190],[67,194.5],[73,194.5],[72,192],[65,188]],
[[34.5,191],[42,195.5],[47,194],[35.8,183.5],[44,190]],
[[35.8,183.5],[47,191],[50,190],[36.5,177.5],[44,183]]];
// soft hot core of the low loading surface
const lowHotStress = [1080,1180,1280,1350];
const lowHotOutlines = [
[[52,177],[60,188],[72,192.5],[80,190],[80,182],[70,176],[60,175]],
[[56,180],[63,188],[72,191],[78,189],[77,183],[68,178]],
[[59,183],[65,187.5],[72,189],[75,186],[70,182],[63,181]],
[[62,184.5],[67,186.5],[71,186.5],[70,184],[65,183]]];
const lowTopStress = [420,360,290,210];
const lowTopOutlines = [
[[31,251.2],[50,253],[75,256.2],[76,242.2],[64,243.5],[50,246],[37,249]],
[[75,256.2],[82,255.5],[88.5,243.5],[76,242.2]],
[[82,255.5],[119,251],[100,246.8],[88.5,243.5]],
[[96,253.5],[119,251],[100,247]]];

// ---------- helpers ----------
const NS = 'http://www.w3.org/2000/svg';
function add(parent, tag, attrs) {
  const el = document.createElementNS(NS, tag);
  for (const key in attrs) el.setAttribute(key, attrs[key]);
  parent.appendChild(el);
  return el;
}
function jet(t) {
  const c = Math.max(0, Math.min(1, t));
  let i = 0;
  while (i < jetPositions.length - 2 && c > jetPositions[i + 1]) i++;
  const f = (c - jetPositions[i]) / (jetPositions[i + 1] - jetPositions[i]);
  const r = Math.round(jetReds[i] + (jetReds[i + 1] - jetReds[i]) * f);
  const g = Math.round(jetGreens[i] + (jetGreens[i + 1] - jetGreens[i]) * f);
  const b = Math.round(jetBlues[i] + (jetBlues[i + 1] - jetBlues[i]) * f);
  return 'rgb(' + r + ',' + g + ',' + b + ')';
}
function stressColor(v) { return jet((v - 100) / 1400); }
function effColor(e) { return jet((e - 82.5) / 15); }

// ---------- axis functions ----------
function sceneX(p, origin) { return origin + 9.566 * p; }
function sceneY(v) { return 7.143 * (278 - v); }
function chordX(mm, origin) { return origin + (mm / 1000 - 0.02) * 16270; }
function stressY(s) { return 2095 - (s - 200) * 0.4935; }
function stressBarY(v) { return 73 + (1500 - v) * 0.7536; }
function effBarY(e) { return 1384 + (0.96 - e) * 5430; }
function markerRadius(mm) { return 0.178 * mm; }
function plotRadius(mm) { return 0.19 * mm + 1; }
function stageFraction(s) { return (s - stageGrid[0]) / (stageGrid[stageGrid.length - 1] - stageGrid[0]); }
function flowFraction(f) { return (f - flowGrid[0]) / (flowGrid[flowGrid.length - 1] - flowGrid[0]); }

function smoothClosed(points, origin, k) {
  const pts = points.map(function (q) { return [sceneX(q[0], origin), sceneY(q[1])]; });
  const n = pts.length;
  let d = 'M' + pts[0][0].toFixed(1) + ' ' + pts[0][1].toFixed(1);
  for (let i = 0; i < n; i++) {
    const a = pts[(i - 1 + n) % n], b = pts[i], c = pts[(i + 1) % n], e = pts[(i + 2) % n];
    const c1x = b[0] + (c[0] - a[0]) * k, c1y = b[1] + (c[1] - a[1]) * k;
    const c2x = c[0] - (e[0] - b[0]) * k, c2y = c[1] - (e[1] - b[1]) * k;
    d += 'C' + c1x.toFixed(1) + ' ' + c1y.toFixed(1) + ' ' + c2x.toFixed(1) + ' ' + c2y.toFixed(1) + ' ' + c[0].toFixed(1) + ' ' + c[1].toFixed(1);
  }
  return d + 'Z';
}

function drawBands(group, levels, outlines, origin, opacity, k) {
  outlines.forEach(function (outline, i) {
    const band = add(group, 'path', { d: smoothClosed(outline, origin, k), fill: stressColor(levels[i]), 'fill-opacity': opacity });
    
    
  });
}

function drawFloor(group, grid, corners, origin) {
  const N = 44;
  function pos(u, w) {
    const p = (1 - u) * (1 - w) * corners[1][0] + u * (1 - w) * corners[2][0] + u * w * corners[3][0] + (1 - u) * w * corners[0][0];
    const v = (1 - u) * (1 - w) * corners[1][1] + u * (1 - w) * corners[2][1] + u * w * corners[3][1] + (1 - u) * w * corners[0][1];
    return sceneX(p, origin).toFixed(1) + ',' + sceneY(v).toFixed(1);
  }
  function value(stage, flow) {
    let a = 0, b = 0;
    while (a < stageGrid.length - 2 && stage > stageGrid[a + 1]) a++;
    while (b < flowGrid.length - 2 && flow > flowGrid[b + 1]) b++;
    const fa = (stage - stageGrid[a]) / (stageGrid[a + 1] - stageGrid[a]);
    const fb = (flow - flowGrid[b]) / (flowGrid[b + 1] - flowGrid[b]);
    return (1 - fa) * (1 - fb) * grid[b][a] + fa * (1 - fb) * grid[b][a + 1] + fa * fb * grid[b + 1][a + 1] + (1 - fa) * fb * grid[b + 1][a];
  }
  const s0 = stageGrid[0], s1 = stageGrid[stageGrid.length - 1], f0 = flowGrid[0], f1 = flowGrid[flowGrid.length - 1];
  for (let i = 0; i < N; i++) {
    for (let j = 0; j < N; j++) {
      const u0 = stageFraction(s0 + (s1 - s0) * i / N), u1 = stageFraction(s0 + (s1 - s0) * (i + 1) / N);
      const w0 = flowFraction(f0 + (f1 - f0) * j / N), w1 = flowFraction(f0 + (f1 - f0) * (j + 1) / N);
      const colour = stressColor(value(s0 + (s1 - s0) * (i + 0.5) / N, f0 + (f1 - f0) * (j + 0.5) / N));
      const cell = add(group, 'polygon', { points: pos(u0, w0) + ' ' + pos(u1, w0) + ' ' + pos(u1, w1) + ' ' + pos(u0, w1), fill: colour, stroke: colour, 'stroke-width': 1.2 });
      
      
    }
  }
}

function drawBox(group, dp, origin) {
  const topLeft = [53.5 + dp, 254], back = [100 + dp, 258.5], backLow = [100 + dp, 193], topRight = [147.5 + dp, 254];
  const lowLeft = [59 + dp, 172.5], lowRight = [142 + dp, 172.5], front = [100.5 + dp, 140.5];
  const px = function (q) { return sceneX(q[0], origin).toFixed(1) + ',' + sceneY(q[1]).toFixed(1); };
  const leftWall = add(group, 'polygon', { points: [topLeft, back, backLow, lowLeft].map(px).join(' '), fill: '#e5ecf6', stroke: '#f3f6fb', 'stroke-width': 4 });
  
  
  const rightWall = add(group, 'polygon', { points: [back, topRight, lowRight, backLow].map(px).join(' '), fill: '#e5ecf6', stroke: '#f3f6fb', 'stroke-width': 4 });
  
  
  const floorPane = add(group, 'polygon', { points: [lowLeft, backLow, lowRight, front].map(px).join(' '), fill: '#e5ecf6', stroke: '#f3f6fb', 'stroke-width': 4 });
  
  
  function mix(a, b, t) { return [a[0] + (b[0] - a[0]) * t, a[1] + (b[1] - a[1]) * t]; }
  function line(a, b, name) {
    const l = add(group, 'line', { x1: sceneX(a[0], origin), y1: sceneY(a[1]), x2: sceneX(b[0], origin), y2: sceneY(b[1]), stroke: '#ffffff', 'stroke-width': 3 });
    
    
  }
  speedTicks.forEach(function (v) {
    const t = (258 - v + (v - 240) * 0.02) / 85.5;
    line(mix(topLeft, lowLeft, t), mix(back, backLow, t), 'left-wall-speed-gridline');
    line(mix(back, backLow, t), mix(topRight, lowRight, t), 'right-wall-speed-gridline');
  });
  flowTicks.slice(0, 4).forEach(function (f) {
    const t = flowFraction(f);
    line(mix(back, topLeft, t), mix(backLow, lowLeft, t), 'left-wall-flow-gridline');
    line(mix(lowRight, front, t), mix(backLow, lowLeft, t), 'floor-flow-gridline');
  });
  stageTicks.slice(1).forEach(function (s) {
    const t = s / 0.65;
    line(mix(back, topRight, t), mix(backLow, lowRight, t), 'right-wall-stage-gridline');
    line(mix(lowLeft, front, t), mix(backLow, lowRight, t), 'floor-stage-gridline');
  });
}

const tickLayer = document.getElementById('tickLabels');

function drawSceneLabels(shift) {
  const style = { 'font-size': 46, fill: '#2a3f5f', 'text-anchor': 'middle', 'dominant-baseline': 'central' };
  function place(str, zx, zy, angle, name) {
    const x = 0.9566 * zx + shift, y = 0.7143 * zy;
    const t = add(tickLayer, 'text', Object.assign({ x: x, y: y, transform: 'rotate(' + angle + ' ' + x + ' ' + y + ')' }, style));
    t.textContent = str;
    
    
  }
  speedTicks.forEach(function (v) {
    place(String(v), 465 + (240 - v) * 0.72, (278 - v) * 10 + 5, -14, 'speed-tick-label');
  });
  stageTicks.forEach(function (s) {
    const t = Math.pow(s / 0.6, 1.15);
    place(String(s), 525 + 393 * t, 1098 + 347 * t, -25, 'stage-tick-label');
  });
  flowTicks.forEach(function (f) {
    const t = Math.pow((f - 0.2) / 0.8, 1.15);
    place(String(f), 1480 - 392 * t, 1098 + 347 * t, 28, 'flow-tick-label');
  });
}

function drawPlot(group, left, width, chordOrigin, clipId, rowSets, extras, tickEnd, ell) {
  const bg = add(group, 'rect', { x: left, y: 1203, width: width, height: 941, fill: '#e5ecf6' });
  
  
  stressTicks.forEach(function (s) {
    const gl = add(group, 'line', { x1: left, x2: left + width, y1: stressY(s), y2: stressY(s), stroke: '#ffffff', 'stroke-width': 3 });
    
    
    const tl = add(tickLayer, 'text', { x: tickEnd, y: stressY(s) + 17, 'font-size': 49, fill: '#2a3f5f', 'text-anchor': 'end' });
    tl.textContent = String(s);
    
    
  });
  chordTicks.forEach(function (c) {
    const gl = add(group, 'line', { x1: chordX(c * 1000, chordOrigin), x2: chordX(c * 1000, chordOrigin), y1: 1203, y2: 2144, stroke: '#ffffff', 'stroke-width': 3 });
    
    
    const tl = add(tickLayer, 'text', { x: chordX(c * 1000, chordOrigin), y: 2197, 'font-size': 49, fill: '#2a3f5f', 'text-anchor': 'middle' });
    tl.textContent = String(c);
    
    
  });
  const marks = [];
  rowSets.forEach(function (set) {
    set.stress.forEach(function (stress, r) {
      set.chord[r].forEach(function (chord, i) {
        marks.push({ c: chord, s: stress, e: set.eff[r][i] !== undefined ? set.eff[r][i] : 88, z: set.size[r][i] !== undefined ? set.size[r][i] : 40 });
      });
    });
  });
  marks.sort(function (a, b) { return a.e - b.e; });
  const cloud = add(group, 'g', { 'clip-path': 'url(#' + clipId + ')' });
  
  
  function dot(m) {
    const pt = add(cloud, 'circle', { cx: chordX(m.c, chordOrigin), cy: stressY(m.s), r: plotRadius(m.z), fill: effColor(m.e), 'fill-opacity': 0.58, stroke: '#ffffff', 'stroke-opacity': 0.55, 'stroke-width': 1.6 });
    
    
  }
  marks.forEach(dot);
  extras.forEach(dot);
  const ring = add(group, 'ellipse', { cx: chordX(ell.c, chordOrigin), cy: stressY(ell.s), rx: ell.rx, ry: ell.ry, transform: 'rotate(' + ell.a + ' ' + chordX(ell.c, chordOrigin) + ' ' + stressY(ell.s) + ')', fill: 'none', stroke: '#000', 'stroke-width': 6.5 });
  
  
}

// ---------- build ----------
const sceneHigh = document.getElementById('scene3dHigh');
drawBox(sceneHigh, 0, 0);
drawBands(sceneHigh, highBackStress, highBackOutlines, 0, 0.92, 0.1);
drawFloor(sceneHigh, highFloorStress, highFloorCorners, 0);
drawBands(sceneHigh, highTopStress, highTopOutlines, 0, 0.92, 0);
drawBands(sceneHigh, highBlobStress, highBlobOutlines, 0, 0.6, 0.16);
drawSceneLabels(0);

const sceneLow = document.getElementById('scene3dLow');
drawBox(sceneLow, -25, 1500);
drawBands(sceneLow, lowPatchStress, lowPatchOutlines, 1500, 0.9, 0);
drawBands(sceneLow, lowBackStress, lowBackOutlines, 1500, 0.92, 0.1);
drawFloor(sceneLow, lowFloorStress, lowFloorCorners, 1500);
const lowHotGroup = add(sceneLow, 'g', { filter: 'url(#softer)' });


drawBands(lowHotGroup, lowHotStress, lowHotOutlines, 1500, 0.85, 0.16);
drawBands(sceneLow, lowTopStress, lowTopOutlines, 1500, 0.92, 0);
drawSceneLabels(1256);

const highExtras = highOutlierChord.map(function (c, i) {
  return { c: c, s: highOutlierStress[i], e: highOutlierEff[i], z: highOutlierSize[i] };
});
drawPlot(document.getElementById('plotHigh'), 246, 1219, 409, 'clipHigh',
  [{ stress: highRowStress, chord: highRowChord, eff: highRowEff, size: highRowSize },
   { stress: highInterStress, chord: highInterChord, eff: highInterEff, size: highInterSize }],
  highExtras, 242, { c: highEllipseChord, s: highEllipseStress, rx: 140, ry: 44, a: 0 });
drawPlot(document.getElementById('plotLow'), 1626, 1220, 1788, 'clipLow',
  [{ stress: lowRowStress, chord: lowRowChord, eff: lowRowEff, size: lowRowSize },
   { stress: lowInterStress, chord: lowInterChord, eff: lowInterEff, size: lowInterSize }],
  [], 1622, { c: lowEllipseChord, s: lowEllipseStress, rx: 236, ry: 32, a: 11.5 });

const stressBarGroup = document.getElementById('stressBar');
stressBarTicks.forEach(function (v) {
  const label = String(v);
  const t = add(stressBarGroup, 'text', { x: 2968, y: stressBarY(v) + 12, 'font-size': 34, fill: '#5a6b85', textLength: label.length === 4 ? 82 : 61, lengthAdjust: 'spacingAndGlyphs' });
  t.textContent = label;
  
  
});
const effBarGroup = document.getElementById('effBar');
effBarTicks.forEach(function (e) {
  const t = add(effBarGroup, 'text', { x: 2984, y: effBarY(e) + 17, 'font-size': 47, fill: '#2a3f5f' });
  t.textContent = String(e);
  
  
});
const legendGroup = document.getElementById('sizeLegend');
const legendLayout = [[1256, 3187, 1268], [1676, 3195, 1690], [2095, 3218, 2108]];
legendSizes.forEach(function (mm, i) {
  const spot = legendLayout[i];
  const m = add(legendGroup, 'circle', { cx: 3180, cy: spot[0], r: i === 0 ? 1.2 : markerRadius(mm) * (i === 1 ? 0.88 : 1), fill: '#8f95f5' });
  
  
  const t = add(legendGroup, 'text', { x: spot[1], y: spot[2], 'font-size': 48, fill: '#2a3f5f', textLength: 215, lengthAdjust: 'spacingAndGlyphs' });
  t.textContent = legendLabels[i];
  
  
});
</script>
</body>
</html>
